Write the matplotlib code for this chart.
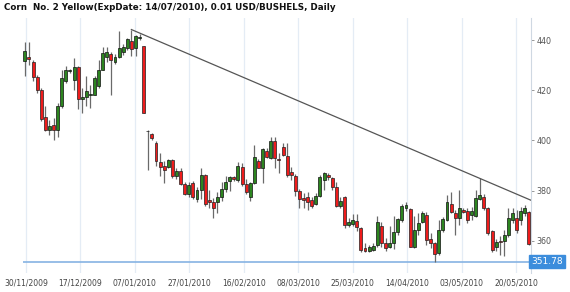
import numpy as np
import matplotlib
matplotlib.use("Agg")
import matplotlib.pyplot as plt

# daily OHLC, 30/11/2009 .. 25/05/2010
opens = [431.5, 433.1, 431.1, 425.4, 420.1, 409.3, 404.3, 406.3, 404.3, 413.8,
         423.8, 427.6, 424.1, 429.1, 416.6, 417.2, 418.0, 418.2, 421.6, 428.2,
         433.4, 434.3, 431.1, 433.4, 435.4, 436.7, 439.6, 436.7, 440.8, 437.5,
         403.9, 402.5, 399.0, 391.4, 389.7, 389.3, 392.3, 385.7, 388.0, 382.6,
         378.6, 383.0, 376.6, 380.2, 386.2, 376.3, 375.6, 375.6, 377.6, 380.6,
         383.8, 385.6, 384.2, 389.5, 382.5, 377.6, 382.9, 391.8, 389.2, 395.8,
         393.1, 399.8, 392.6, 397.5, 394.0, 387.5, 385.8, 380.0, 376.9, 377.6,
         376.3, 374.5, 378.0, 384.2, 386.2, 384.9, 381.6, 374.0, 377.6, 366.3,
         366.6, 367.9, 365.0, 357.0, 356.1, 356.3, 358.3, 365.9, 359.2, 357.7,
         359.0, 363.6, 368.3, 373.0, 372.6, 357.7, 364.3, 367.7, 370.3, 360.6,
         359.0, 355.0, 364.3, 368.3, 374.5, 371.0, 369.0, 372.3, 371.9, 370.3,
         370.0, 376.7, 377.6, 373.0, 363.9, 357.7, 359.9, 359.9, 362.2, 368.3,
         369.0, 368.3, 371.0, 371.6]
closes = [435.7, 432.5, 425.1, 420.1, 408.7, 404.3, 405.9, 404.3, 413.8, 424.9,
          428.2, 427.8, 429.4, 416.6, 417.2, 419.6, 418.5, 424.8, 428.2, 434.7,
          435.3, 432.0, 433.1, 436.7, 437.4, 440.6, 436.6, 441.7, 441.0, 411.0,
          403.6, 400.9, 391.7, 389.3, 388.3, 392.3, 385.7, 388.0, 382.6, 378.6,
          382.4, 377.3, 380.2, 386.2, 374.5, 375.3, 373.0, 377.6, 380.6, 383.6,
          385.6, 384.6, 390.0, 382.5, 379.6, 382.9, 393.5, 389.2, 396.6, 393.5,
          399.8, 392.9, 392.4, 394.2, 386.2, 386.2, 379.8, 376.6, 376.3, 375.3,
          374.0, 378.0, 385.3, 386.9, 385.5, 381.6, 374.0, 375.9, 366.3, 367.7,
          368.3, 365.6, 356.3, 355.9, 357.7, 357.9, 367.7, 359.2, 357.0, 359.2,
          363.6, 368.6, 373.9, 374.3, 357.7, 364.3, 367.2, 371.2, 360.3, 359.2,
          354.7, 364.3, 368.6, 375.3, 371.6, 369.0, 373.0, 371.6, 368.3, 371.9,
          376.9, 378.2, 373.0, 363.0, 356.3, 359.6, 359.4, 362.2, 369.0, 371.0,
          364.3, 371.9, 373.2, 358.6]
highs = [439.2, 439.2, 432.2, 426.2, 420.9, 413.6, 408.0, 409.0, 414.9, 428.2,
         429.6, 428.5, 432.7, 429.8, 420.9, 425.5, 422.0, 425.5, 432.2, 437.3,
         437.3, 435.3, 434.5, 443.5, 438.5, 441.0, 444.2, 442.2, 442.4, 437.6,
         404.3, 403.0, 399.6, 395.0, 391.7, 392.8, 392.8, 389.0, 389.0, 383.5,
         383.5, 384.0, 381.6, 388.9, 386.5, 380.2, 377.0, 379.6, 383.5, 386.0,
         386.0, 386.0, 391.5, 391.0, 384.5, 383.5, 398.2, 392.8, 397.0, 397.0,
         401.5, 401.5, 394.9, 398.8, 398.8, 389.5, 386.5, 380.5, 378.9, 379.6,
         377.6, 378.9, 386.2, 387.5, 386.9, 385.6, 383.6, 377.6, 378.0, 369.0,
         370.6, 370.6, 365.6, 359.0, 358.5, 359.0, 369.9, 367.5, 361.0, 366.0,
         370.0, 369.0, 374.5, 375.5, 373.0, 370.0, 371.0, 372.0, 371.5, 363.0,
         359.6, 368.5, 369.4, 378.2, 379.6, 372.3, 380.2, 373.0, 373.0, 373.5,
         380.2, 384.9, 378.5, 373.5, 364.5, 360.7, 362.0, 364.3, 373.0, 373.0,
         372.5, 373.5, 374.3, 372.0]
lows = [425.7, 430.2, 423.5, 418.9, 407.6, 403.6, 402.0, 400.0, 401.2, 412.9,
        422.8, 427.0, 420.1, 412.5, 411.0, 413.6, 413.0, 418.0, 420.9, 428.0,
        431.4, 418.2, 430.5, 432.7, 434.0, 436.0, 433.5, 433.5, 440.0, 410.8,
        388.3, 400.2, 389.7, 385.7, 383.0, 389.0, 385.0, 384.5, 382.2, 378.2,
        377.6, 376.8, 375.6, 376.7, 374.0, 373.0, 369.0, 371.0, 376.0, 379.5,
        380.0, 384.0, 383.5, 382.0, 378.6, 375.9, 382.5, 389.0, 382.9, 393.0,
        392.5, 388.9, 386.9, 393.8, 385.6, 384.2, 378.0, 373.0, 372.9, 372.3,
        373.0, 374.3, 377.6, 380.2, 384.2, 380.2, 373.6, 373.0, 365.0, 365.6,
        366.0, 363.9, 355.7, 355.7, 355.5, 355.8, 357.7, 357.7, 356.0, 357.0,
        356.7, 362.5, 367.5, 372.0, 357.7, 357.0, 362.5, 367.0, 358.5, 357.0,
        351.78, 354.5, 363.4, 368.0, 371.0, 362.3, 366.3, 371.0, 367.0, 368.5,
        369.5, 376.3, 372.5, 362.5, 355.5, 355.9, 354.5, 354.1, 361.5, 367.0,
        363.0, 366.5, 370.0, 358.3]

date_labels = ["30/11/2009", "17/12/2009", "07/01/2010", "27/01/2010", "16/02/2010",
               "08/03/2010", "25/03/2010", "14/04/2010", "03/05/2010", "20/05/2010"]
price_ticks = [360, 380, 400, 420, 440]
trend_from, trend_to = 26, 111   # trendline drawn through these two highs

title = "Corn  No. 2 Yellow(ExpDate: 14/07/2010), 0.01 USD/BUSHELS, Daily"

fig = plt.figure(figsize=(5.7, 2.92), dpi=100)
ax = fig.add_axes([23 / 570, 19 / 292, 508 / 570, 255 / 292])

x = np.arange(len(opens))
o, c, h, l = map(np.array, (opens, closes, highs, lows))
up = c >= o

# wicks then bodies
ax.vlines(x, l, h, color="#6a6a6a", lw=0.9, zorder=2)
body_lo = np.minimum(o, c)
body_h = np.maximum(np.abs(c - o), 0.35)
ax.bar(x[up], body_h[up], bottom=body_lo[up], width=0.72,
       color="#2d8520", edgecolor="#111111", linewidth=0.5, zorder=3)
ax.bar(x[~up], body_h[~up], bottom=body_lo[~up], width=0.72,
       color="#ee1c1c", edgecolor="#222222", linewidth=0.5, zorder=3)

# downward trendline through two highs, extended to the right edge
x_end = len(opens) - 0.5
slope = (h[trend_to] - h[trend_from]) / (trend_to - trend_from)
ax.plot([trend_from, x_end], [h[trend_from], h[trend_from] + slope * (x_end - trend_from)],
        color="#555555", lw=0.9, zorder=4)

# lowest low marker
low_val = l.min()
ax.axhline(low_val, color="#86b3e3", lw=1.2, zorder=1)
ax.text(1.0, low_val, f"{low_val:.2f}", transform=ax.get_yaxis_transform(),
        ha="left", va="center", color="white", fontsize=6.5,
        bbox=dict(boxstyle="square,pad=0.25", fc="#3c8ddc", ec="#3c8ddc"))

ticks = np.linspace(0.25, 0.25 + 13.3 * 9, len(date_labels))
ax.set_xticks(ticks)
ax.set_xticklabels(date_labels)
ax.set_xlim(-0.45, len(opens) - 0.5)
ax.set_ylim(347.2, 448.8)
ax.grid(axis="x", color="#e4ecf5", lw=0.9)
ax.set_axisbelow(True)

ax.yaxis.tick_right()
ax.set_yticks(price_ticks)
ax.tick_params(axis="y", length=2.5, width=0.6, color="#888888", pad=1.5,
               labelsize=5.8, labelcolor="#555555")
ax.tick_params(axis="x", length=0, pad=4, labelsize=5.5, labelcolor="#444444")

for side in ("top", "left", "bottom"):
    ax.spines[side].set_visible(False)
ax.spines["right"].set_color("#cfd8e2")
ax.spines["right"].set_linewidth(0.8)

fig.text(4 / 570, 1 - 8 / 292, title, ha="left", va="center",
         fontsize=6.35, fontweight="bold", color="#111111")

fig.savefig("out.png", dpi=100)
